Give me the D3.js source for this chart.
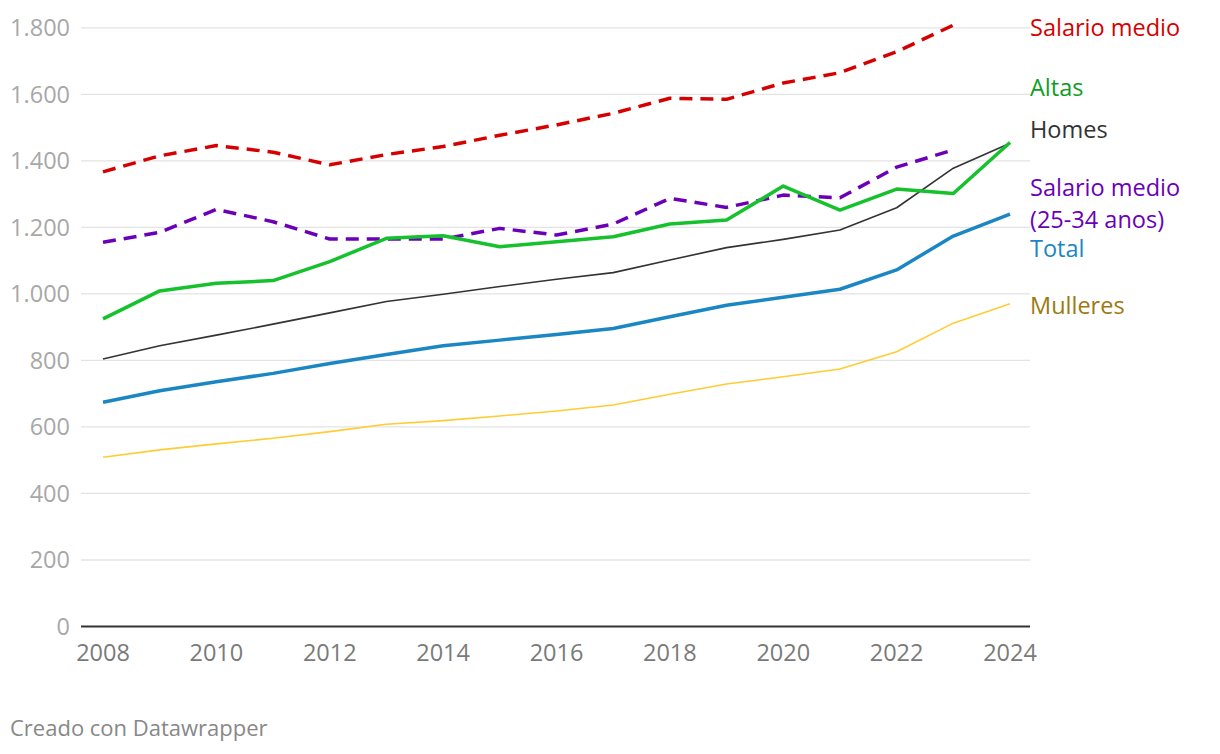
<!DOCTYPE html>
<html><head><meta charset="utf-8">
<script src="https://cdn.jsdelivr.net/npm/d3@7"></script>
<style>body{margin:0;background:#fff;font-family:"Open Sans",sans-serif;}</style>
</head><body><svg id="c" width="1220" height="754"></svg>
<script>
const years = d3.range(2008, 2025);
const salarioMedio = [1367,1415,1446,1426,1388,1419,1443,1477,1508,1543,1588,1585,1634,1665,1728,1808];
const salarioMedioJoven = [1155,1185,1254,1217,1165,1165,1165,1197,1177,1210,1287,1260,1297,1289,1381,1433];
const altas = [925,1009,1032,1040,1097,1167,1175,1142,1157,1172,1210,1222,1324,1252,1315,1302,1455];
const homes = [804,844,876,909,943,977,999,1022,1044,1064,1102,1139,1164,1192,1259,1378,1453];
const total = [674,709,736,761,791,818,844,861,878,896,931,966,990,1014,1072,1174,1240];
const mulleres = [509,531,549,566,586,608,619,633,648,666,698,729,751,774,826,912,970];
const yTicks = [0,200,400,600,800,1000,1200,1400,1600,1800];
const xTicks = [2008,2010,2012,2014,2016,2018,2020,2022,2024];

const series = [
  {name:"Salario medio", values:salarioMedio, color:"#d60000", label:"#d60000", w:3.5, dash:"13,8", ly:[28]},
  {name:"Salario medio (25-34 anos)", values:salarioMedioJoven, color:"#6a00b8", label:"#6a00b8", w:3.5, dash:"13,8", ly:[188,220], lines:["Salario medio","(25-34 anos)"]},
  {name:"Mulleres", values:mulleres, color:"#ffcc33", label:"#9b7a10", w:1.6, ly:[306]},
  {name:"Homes", values:homes, color:"#333333", label:"#333333", w:1.6, ly:[130]},
  {name:"Total", values:total, color:"#1a87c4", label:"#1a87c4", w:3.5, ly:[249]},
  {name:"Altas", values:altas, color:"#15c12d", label:"#0e9e1e", w:3.5, ly:[88]},
];

const svg = d3.select("#c");
const x = d3.scaleLinear().domain([2008,2024]).range([103,1010]);
const y = d3.scaleLinear().domain([0,1800]).range([626.5,27.8]);

const grid = svg.append("g");
yTicks.forEach(t=>{
  if(t>0) grid.append("line").attr("x1",81).attr("x2",1030).attr("y1",y(t)).attr("y2",y(t)).attr("stroke","#e3e3e3").attr("stroke-width",1.3);
  grid.append("text").attr("x",70).attr("y",y(t)).attr("dy","0.36em").attr("text-anchor","end")
    .attr("fill","#a8a8a8").attr("font-size",23.5).text(d3.format(",")(t).replace(/,/g,"."));
});
svg.append("line").attr("x1",81).attr("x2",1030).attr("y1",y(0)).attr("y2",y(0)).attr("stroke","#333").attr("stroke-width",2);
xTicks.forEach(t=>{
  svg.append("text").attr("x",x(t)).attr("y",661).attr("text-anchor","middle").attr("fill","#7a7a7a").attr("font-size",23.5).text(t);
});

const line = d3.line().x((d,i)=>x(years[i])).y(d=>y(d));
series.forEach(s=>{
  svg.append("path").attr("d",line(s.values)).attr("fill","none").attr("stroke",s.color)
    .attr("stroke-width",s.w).attr("stroke-dasharray",s.dash||null).attr("stroke-linejoin","round");
  const lines = s.lines || [s.name];
  lines.forEach((l,i)=>{
    svg.append("text").attr("x",1030).attr("y",s.ly[i]).attr("dy","0.36em").attr("fill",s.label).attr("font-size",23.5).text(l);
  });
});

svg.append("text").attr("x",10).attr("y",736).attr("fill","#888").attr("font-size",22).text("Creado con Datawrapper");
</script></body></html>
